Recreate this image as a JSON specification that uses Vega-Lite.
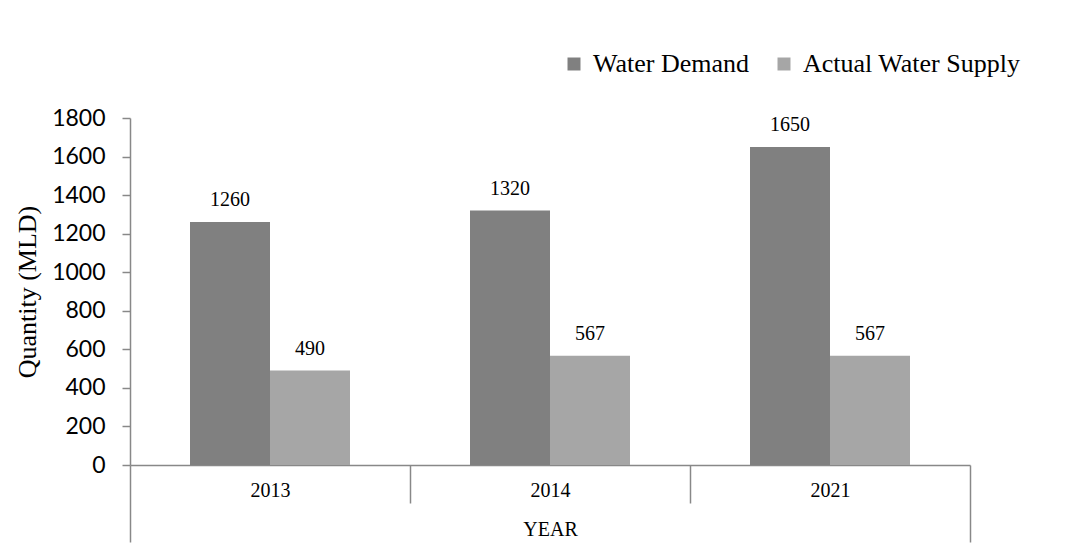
{
  "$schema": "https://vega.github.io/schema/vega-lite/v6.json",
  "width": 840,
  "height": 347,
  "autosize": {"type": "none"},
  "padding": {"left": 130, "top": 118, "right": 107, "bottom": 92},
  "background": "white",
  "config": {"view": {"stroke": null}},
  "data": {"values": [
    {"year": "2013", "series": "Water Demand", "value": 1260},
    {"year": "2013", "series": "Actual Water Supply", "value": 490},
    {"year": "2014", "series": "Water Demand", "value": 1320},
    {"year": "2014", "series": "Actual Water Supply", "value": 567},
    {"year": "2021", "series": "Water Demand", "value": 1650},
    {"year": "2021", "series": "Actual Water Supply", "value": 567}
  ]},
  "encoding": {
    "x": {
      "field": "year", "type": "nominal", "sort": ["2013", "2014", "2021"],
      "scale": {"paddingInner": 0, "paddingOuter": 0},
      "axis": {
        "title": "YEAR", "labelAngle": 0, "tickBand": "extent",
        "tickSize": {"condition": {"test": "datum.index === -1 || datum.index === 1", "value": 77}, "value": 38},
        "tickColor": "#888888", "tickWidth": 1.5,
        "domainColor": "#888888", "domainWidth": 1.5,
        "labelPadding": {"condition": {"test": "datum.index === 1", "value": -62}, "value": -23},
        "labelFont": "Liberation Serif", "labelFontSize": 20, "labelColor": "black",
        "labelFlush": false,
        "titleFont": "Liberation Serif", "titleFontSize": 20, "titleFontWeight": "normal", "titleColor": "black",
        "titlePadding": -23, "grid": false
      }
    },
    "xOffset": {"field": "series", "type": "nominal", "sort": ["Water Demand", "Actual Water Supply"], "scale": {"paddingInner": 0, "paddingOuter": 0.75}},
    "y": {
      "field": "value", "type": "quantitative",
      "scale": {"domain": [0, 1800], "nice": false},
      "axis": {
        "title": "Quantity (MLD)", "values": [0, 200, 400, 600, 800, 1000, 1200, 1400, 1600, 1800], "format": "d",
        "grid": false, "tickSize": 8, "tickColor": "#888888", "tickWidth": 1.5,
        "domainColor": "#888888", "domainWidth": 1.5,
        "labelPadding": 17, "labelFont": "Lato", "labelFontSize": 23, "labelColor": "black",
        "titleFont": "Liberation Serif", "titleFontSize": 26, "titleFontWeight": "normal", "titleColor": "black",
        "titlePadding": 11
      }
    }
  },
  "layer": [
    {
      "mark": {"type": "bar"},
      "encoding": {
        "color": {
          "field": "series", "type": "nominal",
          "scale": {"domain": ["Water Demand", "Actual Water Supply"], "range": ["#808080", "#a6a6a6"]},
          "legend": {
            "title": null, "orient": "none", "legendX": 431, "legendY": -67, "direction": "horizontal",
            "symbolType": "square", "symbolSize": 169, "symbolStrokeWidth": 0, "symbolOpacity": 1,
            "labelFont": "Liberation Serif", "labelFontSize": 26, "labelColor": "black", "labelLimit": 0,
            "labelOffset": 6, "columnPadding": 22, "padding": 0
          }
        }
      }
    },
    {
      "mark": {"type": "text", "dy": -22, "font": "Liberation Serif", "fontSize": 20, "color": "black"},
      "encoding": {"text": {"field": "value", "type": "quantitative"}}
    }
  ]
}
